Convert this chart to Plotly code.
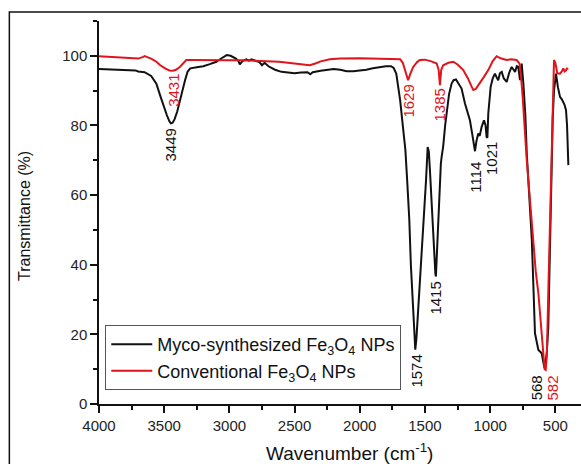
import plotly.graph_objects as go

# ---------------- data ----------------
myco_wn = [4000, 3900, 3800, 3720, 3700, 3650, 3600, 3560, 3530, 3500, 3480, 3460, 3449, 3435,
           3420, 3400, 3380, 3360, 3340, 3320, 3300, 3250, 3200, 3150, 3100, 3060, 3020, 2990,
           2950, 2930, 2920, 2900, 2870, 2850, 2830, 2800, 2770, 2750, 2730, 2700, 2650, 2600,
           2550, 2500, 2450, 2400, 2380, 2360, 2300, 2250, 2200, 2150, 2100, 2050, 2000, 1950,
           1900, 1850, 1800, 1760, 1740, 1720, 1700, 1690, 1670, 1650, 1636, 1620, 1608, 1590,
           1580, 1574, 1565, 1555, 1544, 1530, 1518, 1505, 1492, 1479, 1470, 1460, 1449, 1440,
           1430, 1420, 1416, 1410, 1398, 1385, 1378, 1372, 1360, 1345, 1333, 1315, 1295, 1280,
           1262, 1240, 1219, 1193, 1175, 1155, 1135, 1116, 1105, 1091, 1080, 1065, 1047, 1035,
           1027, 1021, 1014, 1005, 996, 980, 963, 950, 938, 925, 911, 895, 873, 855, 835, 820,
           809, 795, 784, 771, 764, 758, 745, 730, 719, 700, 680, 656, 640, 630, 615, 604, 592,
           582, 575, 565, 554, 545, 535, 528, 520, 510, 495, 480, 464, 450, 439, 430, 418, 410, 400]
myco_t = [96.2, 96.0, 95.9, 95.8, 95.5, 95.3, 94.2, 92.0, 88.5, 85.0, 83.0, 81.2, 80.6, 80.8,
          81.8, 84.0, 87.3, 90.5, 93.0, 95.5, 96.4, 96.7, 97.0, 97.6, 98.3, 99.3, 100.2, 100.0,
          99.2, 98.5, 97.5, 98.5, 99.0, 98.6, 99.0, 98.6, 98.2, 97.3, 98.0, 97.0, 96.0, 95.4,
          95.1, 95.0, 95.2, 95.3, 94.7, 95.3, 95.7, 96.0, 96.2, 96.0, 95.6, 95.6, 95.7, 96.0,
          96.4, 96.8, 97.0, 97.0, 96.5, 94.9, 90.0, 87.2, 80.0, 73.0, 64.0, 53.0, 40.0, 27.0,
          20.0, 15.6, 19.0, 25.0, 33.0, 40.0, 46.0, 55.0, 64.0, 73.8, 72.5, 66.0, 58.0, 50.0,
          42.0, 37.5, 36.6, 42.0, 54.0, 65.0, 69.0, 71.0, 74.0, 80.0, 84.4, 89.0, 92.1, 93.0,
          93.2, 92.0, 90.6, 86.3, 84.0, 81.5, 77.0, 72.6, 75.5, 77.7, 77.0, 79.6, 81.5, 80.0,
          76.7, 76.5, 83.5, 88.0, 91.1, 93.5, 94.9, 93.8, 93.0, 95.0, 95.4, 93.5, 92.5, 95.0,
          96.8, 96.0, 95.4, 97.0, 96.8, 93.0, 95.5, 97.8, 92.0, 83.0, 72.0, 60.0, 47.0, 20.3,
          17.0, 15.5, 15.0, 14.5, 12.0, 10.3, 11.5, 15.0, 22.0, 40.0, 58.0, 70.0, 82.0, 90.0,
          94.9, 91.0, 88.2, 87.5, 86.8, 86.0, 84.4, 80.0, 68.6]

conv_wn = [4000, 3900, 3800, 3700, 3660, 3649, 3620, 3600, 3560, 3530, 3490, 3460, 3431, 3410,
           3380, 3350, 3330, 3300, 3200, 3100, 3000, 2900, 2800, 2700, 2620, 2500, 2450, 2384,
           2340, 2300, 2229, 2150, 2000, 1900, 1800, 1720, 1690, 1670, 1650, 1629, 1610, 1590,
           1560, 1539, 1500, 1488, 1450, 1410, 1395, 1385, 1375, 1360, 1320, 1283, 1250, 1206,
           1170, 1140, 1129, 1110, 1078, 1050, 1014, 980, 950, 920, 873, 840, 797, 775, 765,
           750, 719, 680, 650, 630, 610, 595, 582, 574, 565, 554, 540, 528, 518, 510, 500, 485,
           464, 450, 439, 428, 418, 410, 405]
conv_t = [99.9, 99.6, 99.3, 99.2, 99.7, 99.9, 99.5, 99.2, 98.3, 97.3, 96.3, 95.8, 95.7, 96.0,
          96.8, 98.0, 98.8, 98.8, 98.7, 98.6, 98.7, 98.7, 98.6, 98.5, 98.3, 97.8, 97.5, 97.3,
          97.8, 98.4, 99.0, 99.2, 99.3, 99.2, 99.2, 99.2, 99.0, 98.0, 95.5, 93.0, 95.0, 96.8,
          98.2, 98.8, 98.9, 98.8, 98.4, 97.8, 96.0, 91.6, 96.0, 97.3, 98.0, 98.3, 97.5, 95.9,
          93.5, 91.0, 90.2, 90.5, 92.1, 93.8, 95.9, 98.5, 99.9, 99.3, 98.8, 99.0, 98.8, 97.8,
          95.0, 88.0, 70.0, 52.0, 38.0, 31.8, 22.0, 15.0, 10.0, 9.8, 14.0, 31.8, 52.0, 70.0,
          90.0, 98.8, 98.0, 95.0, 94.9, 95.5, 96.4, 95.5, 95.8, 96.5, 96.0]

# peak labels: (text, wavenumber, label top, colour key, horizontal nudge px)
peak_text = ["3449", "3431", "1629", "1385", "1574", "1415", "1114", "1021", "568", "582"]
peak_wn = [3449, 3431, 1629, 1385, 1574, 1415, 1114, 1021, 568, 582]
peak_top = [79.8, 95.3, 92.2, 91.3, 14.7, 35.6, 70.1, 75.8, 8.8, 8.8]
peak_series = ["myco", "conv", "conv", "conv", "myco", "myco", "myco", "myco", "myco", "conv"]
peak_nudge = [0, 0, 0, 0, 1, 0, 0, 4, -10, 8]

x_ticks = [4000, 3500, 3000, 2500, 2000, 1500, 1000, 500]
y_ticks = [0, 20, 40, 60, 80, 100]

BLACK = "#111111"
RED = "#e0141b"
FONT = "Arial, 'Liberation Sans', sans-serif"
colors = {"myco": BLACK, "conv": RED}

fig = go.Figure()
fig.add_trace(go.Scatter(x=myco_wn, y=myco_t, mode="lines",
                         line=dict(color=BLACK, width=2),
                         name="Myco-synthesized Fe<sub>3</sub>O<sub>4</sub> NPs"))
fig.add_trace(go.Scatter(x=conv_wn, y=conv_t, mode="lines",
                         line=dict(color=RED, width=2),
                         name="Conventional Fe<sub>3</sub>O<sub>4</sub> NPs"))

for t, w, top, s, dx in zip(peak_text, peak_wn, peak_top, peak_series, peak_nudge):
    fig.add_annotation(x=w, y=top, text=t, showarrow=False, textangle=-90,
                       xanchor="center", yanchor="top", xshift=dx,
                       font=dict(family=FONT, size=15, color=colors[s]))

# axis titles
fig.add_annotation(xref="paper", yref="paper", x=0.519, y=-0.125, text="Wavenumber (cm<sup>-1</sup>)",
                   showarrow=False, xanchor="center", yanchor="middle",
                   font=dict(family=FONT, size=19, color="#111"))
fig.add_annotation(xref="paper", yref="paper", x=-0.1535, y=0.491, text="Transmittance (%)",
                   showarrow=False, textangle=-90, xanchor="center", yanchor="middle",
                   font=dict(family=FONT, size=16, color="#111"))

# outer frame of the figure
fig.add_shape(type="rect", xref="paper", yref="paper", x0=-0.186, y0=-0.3, x1=1.05, y1=1.0235,
              line=dict(color="#111", width=1.5), fillcolor="rgba(0,0,0,0)", layer="below")

fig.update_layout(
    width=581, height=464,
    margin=dict(l=99, r=0, t=21, b=60),
    paper_bgcolor="white", plot_bgcolor="white",
    font=dict(family=FONT, size=15, color="#111"),
    showlegend=True,
    legend=dict(x=0.013, y=0.206, xanchor="left", yanchor="top",
                bgcolor="white", bordercolor="#555", borderwidth=1,
                font=dict(family=FONT, size=18, color="#111"),
                itemwidth=41, tracegroupgap=0),
)
fig.update_xaxes(range=[4000, 303], tickvals=x_ticks, ticktext=[str(v) for v in x_ticks],
                 showgrid=False, zeroline=False, showline=True, linecolor="#111", linewidth=1.5,
                 ticks="outside", ticklen=7, tickwidth=1.5, tickcolor="#111",
                 tickfont=dict(family=FONT, size=15, color="#222"),
                 minor=dict(dtick=250, tick0=0, ticks="outside", ticklen=4, tickwidth=1.5,
                            tickcolor="#111", showgrid=False))
fig.update_yaxes(range=[0, 110], tickvals=y_ticks, ticktext=[str(v) for v in y_ticks],
                 showgrid=False, zeroline=False, showline=True, linecolor="#111", linewidth=1.5,
                 ticks="outside", ticklen=7, tickwidth=1.5, tickcolor="#111",
                 tickfont=dict(family=FONT, size=15, color="#222"),
                 minor=dict(dtick=10, tick0=0, ticks="outside", ticklen=4, tickwidth=1.5,
                            tickcolor="#111", showgrid=False))

fig.write_html("out.html")
